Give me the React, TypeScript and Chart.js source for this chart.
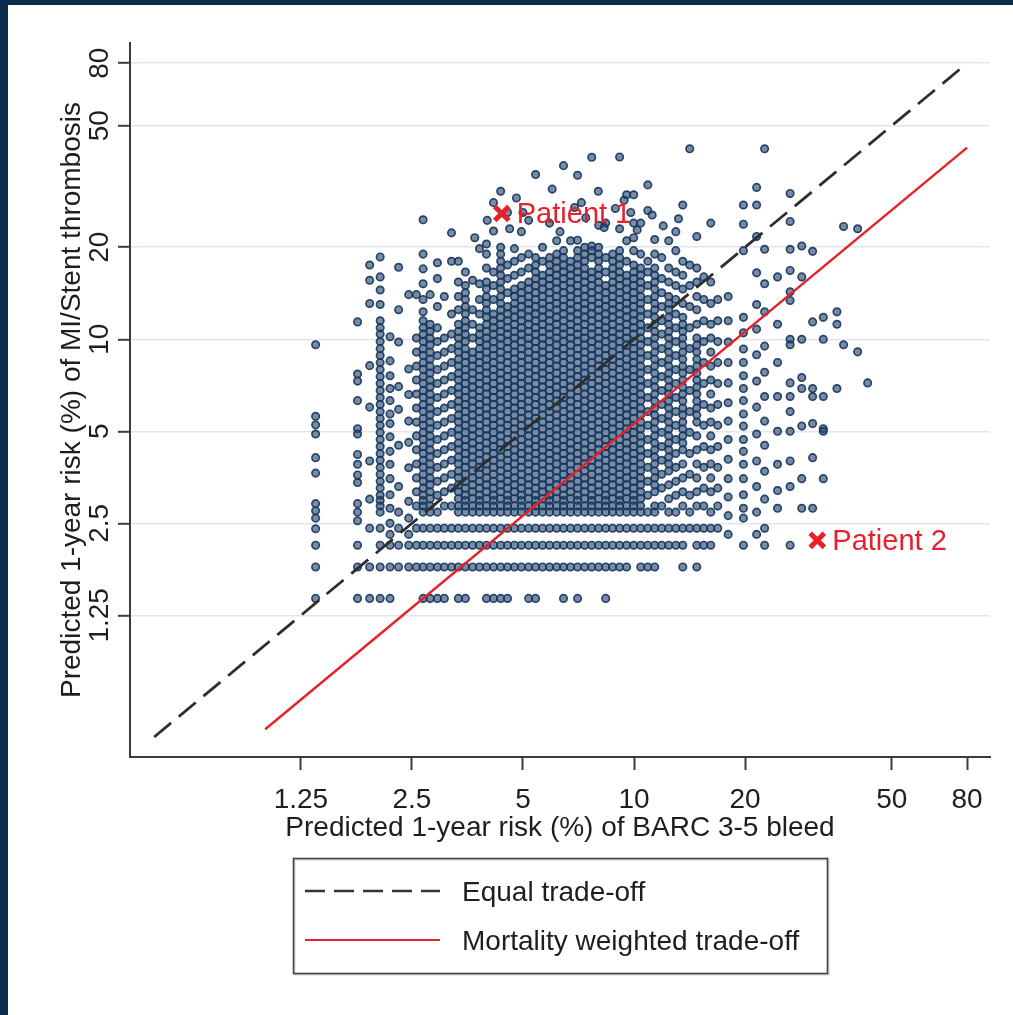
import React, { useEffect, useRef } from "react";
import { Chart, registerables } from "chart.js";

Chart.register(...registerables);

// ---------- axis ticks & titles ----------
const tickValues = [1.25, 2.5, 5, 10, 20, 50, 80];
const tickLabels = ["1.25", "2.5", "5", "10", "20", "50", "80"];
const xTitle = "Predicted 1-year risk (%) of BARC 3-5 bleed";
const yTitle = "Predicted 1-year risk (%) of MI/Stent thrombosis";

// ---------- reference lines ----------
const equalLineX = [0.5, 80];
const equalLineY = [0.5, 80];
const weightedLineX = [1, 80];
const weightedLineY = [0.53, 42.4];
const legendLabels = ["Equal trade-off", "Mortality weighted trade-off"];

// ---------- highlighted patients ----------
const patientNames = ["Patient 1", "Patient 2"];
const patientBleed = [4.38, 31.4];
const patientMist = [25.8, 2.2];

// ---------- patient cloud: bleed-risk columns and the MI/ST risks read in each ----------
const leftColsX = [1.37, 1.78, 1.92, 2.05, 2.18, 2.3, 2.45];
const leftColsY = [
  [9.6, 5.6, 5.25, 4.9, 4.1, 3.65, 2.9, 2.75, 2.6, 2.4, 2.12, 1.8, 1.42],
  [11.4, 7.7, 7.3, 6.3, 5.1, 4.9, 4.2, 3.9, 3.6, 3.4, 2.9, 2.72, 2.55, 2.12, 1.8, 1.42],
  [17.5, 15.6, 13.1, 8.2, 6.0, 4.0, 3.0, 2.41, 1.8, 1.42],
  [18.6, 16, 14.5, 13, 11.5, 10.9, 10.4, 9.83, 9.32, 8.85, 8.39, 7.96, 7.55, 7.17, 6.8, 6.45, 6.12, 5.8, 5.51, 5.23, 4.96, 4.7, 4.46, 4.23, 4.02, 3.81, 3.62, 3.43, 3.26, 3.09, 2.97, 2.85, 2.72, 2.41, 2.12, 1.8, 1.42],
  [10.2, 8.5, 7.6, 6.9, 6.3, 5.7, 5.3, 4.8, 4.3, 3.9, 3.5, 3.1, 2.8, 2.5, 2.3, 2.12, 1.8, 1.42],
  [17.2, 12.5, 9.8, 7.0, 5.9, 4.5, 3.3, 2.72, 2.41, 2.12, 1.8],
  [14, 8.0, 6.6, 5.4, 4.6, 3.8, 2.95, 2.6, 2.3, 2.12, 1.8],
];

const coreLowX = [2.57, 2.68, 2.8, 2.93, 3.06, 3.2, 3.34, 3.49, 3.65, 3.81, 3.98, 4.16, 4.35, 4.54, 4.74, 4.95, 5.18, 5.41, 5.65];
const coreLowY = [
  [14, 10.1, 9.08, 8.17, 7.36, 6.62, 5.96, 5.36, 4.83, 4.35, 3.91, 3.52, 3.17, 2.85, 2.41, 2.12, 1.8],
  [24.6, 19, 17, 15.2, 13.5, 12.3, 11.5, 10.9, 10.4, 9.83, 9.32, 8.85, 8.39, 7.96, 7.55, 7.17, 6.8, 6.45, 6.12, 5.8, 5.51, 5.23, 4.96, 4.7, 4.46, 4.23, 4.02, 3.81, 3.62, 3.43, 3.26, 3.09, 2.97, 2.85, 2.72, 2.41, 2.12, 1.8, 1.42],
  [14, 11.2, 10.6, 10.1, 9.57, 9.08, 8.61, 8.17, 7.75, 7.36, 6.98, 6.62, 6.28, 5.96, 5.65, 5.36, 5.09, 4.83, 4.58, 4.35, 4.12, 3.91, 3.71, 3.52, 3.34, 3.17, 3.01, 2.85, 2.72, 2.41, 2.12, 1.8, 1.42],
  [17.8, 15.8, 12.8, 10.9, 9.83, 8.85, 7.96, 7.17, 6.45, 5.8, 5.23, 4.7, 4.23, 3.81, 3.43, 3.09, 2.72, 2.41, 2.12, 1.8, 1.42],
  [13.8, 10.1, 9.08, 8.17, 7.36, 6.62, 5.96, 5.36, 4.83, 4.35, 3.91, 3.52, 3.17, 2.85, 2.41, 2.12, 1.8, 1.42],
  [22.3, 18, 12.1, 10.4, 9.32, 8.39, 7.55, 6.8, 6.12, 5.51, 4.96, 4.46, 4.02, 3.62, 3.26, 2.85, 2.41, 2.12, 1.8],
  [18, 15.4, 13.8, 12.5, 11.2, 10.6, 10.1, 9.57, 9.08, 8.61, 8.17, 7.75, 7.36, 6.98, 6.62, 6.28, 5.96, 5.65, 5.36, 5.09, 4.83, 4.58, 4.35, 4.12, 3.91, 3.71, 3.52, 3.34, 3.17, 3.01, 2.85, 2.72, 2.41, 2.12, 1.8, 1.42],
  [16.6, 15, 14.2, 13.5, 12.8, 12.1, 11.5, 10.9, 10.4, 9.83, 9.32, 8.85, 8.39, 7.96, 7.55, 7.17, 6.8, 6.45, 6.12, 5.8, 5.51, 5.23, 4.96, 4.7, 4.46, 4.23, 4.02, 3.81, 3.62, 3.43, 3.26, 3.09, 2.97, 2.85, 2.72, 2.41, 2.12, 1.8, 1.42],
  [15.6, 12.5, 11.2, 10.1, 9.08, 8.61, 8.17, 7.75, 7.36, 6.98, 6.62, 6.28, 5.96, 5.65, 5.36, 5.09, 4.83, 4.58, 4.35, 4.12, 3.91, 3.71, 3.52, 3.34, 3.17, 3.01, 2.85, 2.72, 2.41, 2.12, 1.8],
  [19.8, 15.2, 13.5, 12.1, 10.9, 10.4, 9.83, 9.32, 8.85, 8.39, 7.96, 7.55, 7.17, 6.8, 6.45, 6.12, 5.8, 5.51, 5.23, 4.96, 4.7, 4.46, 4.23, 4.02, 3.81, 3.62, 3.43, 3.26, 3.09, 2.97, 2.85, 2.72, 2.41, 2.12, 1.8],
  [20.5, 19, 17.1, 15.4, 14.6, 13.8, 13.1, 12.5, 11.8, 11.2, 10.6, 10.1, 9.57, 9.08, 8.61, 8.17, 7.75, 7.36, 6.98, 6.62, 6.28, 5.96, 5.65, 5.36, 5.09, 4.83, 4.58, 4.35, 4.12, 3.91, 3.71, 3.52, 3.34, 3.17, 3.01, 2.85, 2.72, 2.41, 2.12, 1.8, 1.42],
  [28, 22.6, 16.6, 15, 13.5, 12.1, 11.5, 10.9, 10.4, 9.83, 9.32, 8.85, 8.39, 7.96, 7.55, 7.17, 6.8, 6.45, 6.12, 5.8, 5.51, 5.23, 4.96, 4.7, 4.46, 4.23, 4.02, 3.81, 3.62, 3.43, 3.26, 3.09, 2.97, 2.85, 2.72, 2.41, 2.12, 1.8, 1.42],
  [30.5, 20, 19, 18, 17.1, 16.2, 15.4, 14.6, 13.8, 13.1, 12.5, 11.8, 11.2, 10.6, 10.1, 9.57, 9.08, 8.61, 8.17, 7.75, 7.36, 6.98, 6.62, 6.28, 5.96, 5.65, 5.36, 5.09, 4.83, 4.58, 4.35, 4.12, 3.91, 3.71, 3.52, 3.34, 3.17, 3.01, 2.85, 2.72, 2.41, 2.12, 1.8, 1.42],
  [26, 17.5, 15.8, 14.2, 12.8, 12.1, 11.5, 10.9, 10.4, 9.83, 9.32, 8.85, 8.39, 7.96, 7.55, 7.17, 6.8, 6.45, 6.12, 5.8, 5.51, 5.23, 4.96, 4.7, 4.46, 4.23, 4.02, 3.81, 3.62, 3.43, 3.26, 3.09, 2.97, 2.85, 2.72, 2.41, 2.12, 1.8, 1.42],
  [19.8, 18, 16.2, 14.6, 13.8, 13.1, 12.5, 11.8, 11.2, 10.6, 10.1, 9.57, 9.08, 8.61, 8.17, 7.75, 7.36, 6.98, 6.62, 6.28, 5.96, 5.65, 5.36, 5.09, 4.83, 4.58, 4.35, 4.12, 3.91, 3.71, 3.52, 3.34, 3.17, 3.01, 2.85, 2.72, 2.41, 2.12, 1.8],
  [22.5, 18.5, 16.6, 15, 14.2, 13.5, 12.8, 12.1, 11.5, 10.9, 10.4, 9.83, 9.32, 8.85, 8.39, 7.96, 7.55, 7.17, 6.8, 6.45, 6.12, 5.8, 5.51, 5.23, 4.96, 4.7, 4.46, 4.23, 4.02, 3.81, 3.62, 3.43, 3.26, 3.09, 2.97, 2.85, 2.72, 2.41, 2.12, 1.8],
  [24.5, 19, 17.1, 15.4, 14.6, 13.8, 13.1, 12.5, 11.8, 11.2, 10.6, 10.1, 9.57, 9.08, 8.61, 8.17, 7.75, 7.36, 6.98, 6.62, 6.28, 5.96, 5.65, 5.36, 5.09, 4.83, 4.58, 4.35, 4.12, 3.91, 3.71, 3.52, 3.34, 3.17, 3.01, 2.85, 2.72, 2.41, 2.12, 1.8, 1.42],
  [34.6, 18.5, 17.5, 16.6, 15.8, 15, 14.2, 13.5, 12.8, 12.1, 11.5, 10.9, 10.4, 9.83, 9.32, 8.85, 8.39, 7.96, 7.55, 7.17, 6.8, 6.45, 6.12, 5.8, 5.51, 5.23, 4.96, 4.7, 4.46, 4.23, 4.02, 3.81, 3.62, 3.43, 3.26, 3.09, 2.97, 2.85, 2.72, 2.41, 2.12, 1.8, 1.42],
  [20, 18, 16.2, 15.4, 14.6, 13.8, 13.1, 12.5, 11.8, 11.2, 10.6, 10.1, 9.57, 9.08, 8.61, 8.17, 7.75, 7.36, 6.98, 6.62, 6.28, 5.96, 5.65, 5.36, 5.09, 4.83, 4.58, 4.35, 4.12, 3.91, 3.71, 3.52, 3.34, 3.17, 3.01, 2.85, 2.72, 2.41, 2.12, 1.8],
];

const coreHighX = [5.9, 6.17, 6.44, 6.73, 7.03, 7.35, 7.68, 8.02, 8.38, 8.75, 9.14, 9.55, 9.98, 10.43];
const coreHighY = [
  [18.5, 17.5, 16.6, 15.8, 15, 14.2, 13.5, 12.8, 12.1, 11.5, 10.9, 10.4, 9.83, 9.32, 8.85, 8.39, 7.96, 7.55, 7.17, 6.8, 6.45, 6.12, 5.8, 5.51, 5.23, 4.96, 4.7, 4.46, 4.23, 4.02, 3.81, 3.62, 3.43, 3.26, 3.09, 2.97, 2.85, 2.72, 2.41, 2.12, 1.8],
  [21, 19, 18, 17.1, 16.2, 15.4, 14.6, 13.8, 13.1, 12.5, 11.8, 11.2, 10.6, 10.1, 9.57, 9.08, 8.61, 8.17, 7.75, 7.36, 6.98, 6.62, 6.28, 5.96, 5.65, 5.36, 5.09, 4.83, 4.58, 4.35, 4.12, 3.91, 3.71, 3.52, 3.34, 3.17, 3.01, 2.85, 2.72, 2.41, 2.12, 1.8],
  [37, 19.5, 18.5, 17.5, 16.6, 15.8, 15, 14.2, 13.5, 12.8, 12.1, 11.5, 10.9, 10.4, 9.83, 9.32, 8.85, 8.39, 7.96, 7.55, 7.17, 6.8, 6.45, 6.12, 5.8, 5.51, 5.23, 4.96, 4.7, 4.46, 4.23, 4.02, 3.81, 3.62, 3.43, 3.26, 3.09, 2.97, 2.85, 2.72, 2.41, 2.12, 1.8, 1.42],
  [21, 18, 17.1, 16.2, 15.4, 14.6, 13.8, 13.1, 12.5, 11.8, 11.2, 10.6, 10.1, 9.57, 9.08, 8.61, 8.17, 7.75, 7.36, 6.98, 6.62, 6.28, 5.96, 5.65, 5.36, 5.09, 4.83, 4.58, 4.35, 4.12, 3.91, 3.71, 3.52, 3.34, 3.17, 3.01, 2.85, 2.72, 2.41, 2.12, 1.8],
  [34.4, 21.1, 19.5, 18.5, 17.5, 16.6, 15.8, 15, 14.2, 13.5, 12.8, 12.1, 11.5, 10.9, 10.4, 9.83, 9.32, 8.85, 8.39, 7.96, 7.55, 7.17, 6.8, 6.45, 6.12, 5.8, 5.51, 5.23, 4.96, 4.7, 4.46, 4.23, 4.02, 3.81, 3.62, 3.43, 3.26, 3.09, 2.97, 2.85, 2.72, 2.41, 2.12, 1.8, 1.42],
  [20, 19, 18, 17.1, 16.2, 15.4, 14.6, 13.8, 13.1, 12.5, 11.8, 11.2, 10.6, 10.1, 9.57, 9.08, 8.61, 8.17, 7.75, 7.36, 6.98, 6.62, 6.28, 5.96, 5.65, 5.36, 5.09, 4.83, 4.58, 4.35, 4.12, 3.91, 3.71, 3.52, 3.34, 3.17, 3.01, 2.85, 2.72, 2.41, 2.12, 1.8],
  [39.4, 20.2, 19.5, 18.5, 16.6, 15.8, 15, 14.2, 13.5, 12.8, 12.1, 11.5, 10.9, 10.4, 9.83, 9.32, 8.85, 8.39, 7.96, 7.55, 7.17, 6.8, 6.45, 6.12, 5.8, 5.51, 5.23, 4.96, 4.7, 4.46, 4.23, 4.02, 3.81, 3.62, 3.43, 3.26, 3.09, 2.97, 2.85, 2.72, 2.41, 2.12, 1.8],
  [23.6, 20, 19, 18, 17.1, 16.2, 15.4, 14.6, 13.8, 13.1, 12.5, 11.8, 11.2, 10.6, 10.1, 9.57, 9.08, 8.61, 8.17, 7.75, 7.36, 6.98, 6.62, 6.28, 5.96, 5.65, 5.36, 5.09, 4.83, 4.58, 4.35, 4.12, 3.91, 3.71, 3.52, 3.34, 3.17, 3.01, 2.85, 2.72, 2.41, 2.12, 1.8],
  [24, 18.5, 16.6, 15, 14.2, 13.5, 12.8, 12.1, 11.5, 10.9, 10.4, 9.83, 9.32, 8.85, 8.39, 7.96, 7.55, 7.17, 6.8, 6.45, 6.12, 5.8, 5.51, 5.23, 4.96, 4.7, 4.46, 4.23, 4.02, 3.81, 3.62, 3.43, 3.26, 3.09, 2.97, 2.85, 2.72, 2.41, 2.12, 1.8, 1.42],
  [19, 18, 17.1, 16.2, 15.4, 14.6, 13.8, 13.1, 12.5, 11.8, 11.2, 10.6, 10.1, 9.57, 9.08, 8.61, 8.17, 7.75, 7.36, 6.98, 6.62, 6.28, 5.96, 5.65, 5.36, 5.09, 4.83, 4.58, 4.35, 4.12, 3.91, 3.71, 3.52, 3.34, 3.17, 3.01, 2.85, 2.72, 2.41, 2.12, 1.8],
  [39.5, 23, 19.5, 18.5, 17.5, 16.6, 15.8, 15, 14.2, 13.5, 12.8, 12.1, 11.5, 10.9, 10.4, 9.83, 9.32, 8.85, 8.39, 7.96, 7.55, 7.17, 6.8, 6.45, 6.12, 5.8, 5.51, 5.23, 4.96, 4.7, 4.46, 4.23, 4.02, 3.81, 3.62, 3.43, 3.26, 3.09, 2.97, 2.85, 2.72, 2.41, 2.12, 1.8],
  [29.7, 21, 18, 16.2, 15.4, 14.6, 13.8, 13.1, 12.5, 11.8, 11.2, 10.6, 10.1, 9.57, 9.08, 8.61, 8.17, 7.75, 7.36, 6.98, 6.62, 6.28, 5.96, 5.65, 5.36, 5.09, 4.83, 4.58, 4.35, 4.12, 3.91, 3.71, 3.52, 3.34, 3.17, 3.01, 2.85, 2.72, 2.41, 2.12, 1.8],
  [29.7, 24, 21.5, 19.5, 17.5, 16.6, 15.8, 15, 14.2, 13.5, 12.8, 12.1, 11.5, 10.9, 10.4, 9.83, 9.32, 8.85, 8.39, 7.96, 7.55, 7.17, 6.8, 6.45, 6.12, 5.8, 5.51, 5.23, 4.96, 4.7, 4.46, 4.23, 4.02, 3.81, 3.62, 3.43, 3.26, 3.09, 2.97, 2.85, 2.72, 2.41, 2.12],
  [24, 19, 17.1, 16.2, 15.4, 14.6, 13.8, 13.1, 12.5, 11.8, 11.2, 10.6, 10.1, 9.57, 9.08, 8.61, 8.17, 7.75, 7.36, 6.98, 6.62, 6.28, 5.96, 5.65, 5.36, 5.09, 4.83, 4.58, 4.35, 4.12, 3.91, 3.71, 3.52, 3.34, 3.17, 3.01, 2.85, 2.72, 2.41, 2.12, 1.8],
];

const upperX = [10.9, 11.38, 11.89, 12.42, 12.98, 13.56, 14.16, 14.8, 15.46, 16.15, 16.87];
const upperY = [
  [32, 26.4, 18, 16.6, 15, 13.5, 12.1, 10.9, 9.83, 8.85, 7.96, 7.17, 6.45, 5.8, 5.23, 4.7, 4.23, 3.81, 3.43, 3.09, 2.72, 2.41, 2.12, 1.8],
  [21.2, 19, 17.1, 16.2, 15.4, 14.6, 13.8, 13.1, 12.5, 11.8, 11.2, 10.6, 10.1, 9.57, 9.08, 8.61, 8.17, 7.75, 7.36, 6.98, 6.62, 6.28, 5.96, 5.65, 5.36, 5.09, 4.83, 4.58, 4.35, 4.12, 3.91, 3.71, 3.52, 3.34, 3.17, 2.85, 2.72, 2.41, 2.12, 1.8],
  [18.5, 15.8, 14.2, 12.8, 11.5, 10.4, 9.32, 8.39, 7.55, 6.8, 6.12, 5.51, 4.96, 4.46, 4.02, 3.62, 3.26, 2.85, 2.41, 2.12],
  [21, 17.1, 15.4, 13.8, 13.1, 12.5, 11.8, 11.2, 10.6, 10.1, 9.57, 9.08, 8.61, 8.17, 7.75, 7.36, 6.98, 6.62, 6.28, 5.96, 5.65, 5.36, 5.09, 4.83, 4.58, 4.35, 4.12, 3.91, 3.71, 3.34, 3.01, 2.72, 2.41, 2.12],
  [22.5, 19.5, 16.6, 15, 13.5, 12.1, 10.9, 9.83, 8.85, 7.96, 7.17, 6.45, 5.8, 5.23, 4.7, 4.23, 3.81, 3.43, 3.09, 2.72, 2.41, 2.12],
  [27.5, 18, 16.2, 14.6, 13.1, 11.8, 11.2, 10.6, 10.1, 9.57, 9.08, 8.61, 8.17, 7.75, 7.36, 6.98, 6.62, 6.28, 5.96, 5.65, 5.36, 5.09, 4.83, 4.58, 4.35, 3.91, 3.52, 3.17, 2.85, 2.41, 2.12, 1.8],
  [42, 17.5, 15, 12.8, 10.9, 9.32, 7.96, 6.8, 5.8, 4.96, 4.23, 3.62, 3.09, 2.72, 2.41],
  [21.7, 17.1, 15.4, 13.8, 12.5, 11.2, 10.1, 9.57, 9.08, 8.61, 8.17, 7.75, 7.36, 6.98, 6.62, 6.28, 5.96, 5.65, 5.36, 4.83, 4.35, 3.91, 3.52, 3.17, 2.85, 2.41, 2.12, 1.8],
  [16, 13.5, 11.5, 9.83, 8.39, 7.17, 6.12, 5.23, 4.46, 3.81, 3.26, 2.85, 2.41, 2.12],
  [24, 15.4, 13.1, 11.2, 10.1, 9.08, 8.17, 7.36, 6.62, 5.96, 5.36, 4.83, 4.35, 3.91, 3.52, 3.17, 2.72, 2.41, 2.12],
  [13.5, 11.5, 9.83, 8.39, 7.17, 6.12, 5.23, 4.46, 3.81, 3.26, 2.85, 2.41],
];

const rightColsX = [18, 19.8, 21.5, 22.6, 24.5, 26.5, 28.5, 30.5, 32.6, 35.5, 37, 40.4, 43];
const rightColsY = [
  [13.8, 11.5, 9.8, 8.4, 7.2, 6.2, 5.4, 4.7, 4.05, 3.5, 3.05, 2.65, 2.3],
  [27.5, 23.8, 19.5, 11.8, 10.5, 9.3, 8.4, 7.6, 6.9, 6.3, 5.7, 5.2, 4.7, 4.3, 3.9, 3.5, 3.1, 2.8, 2.6, 2.12],
  [31.4, 27.5, 21.7, 16.5, 13, 10.8, 8.9, 7.3, 6.0, 4.9, 4.0, 3.3, 2.72, 2.3],
  [42, 19.7, 15.2, 12.3, 9.5, 7.8, 6.5, 5.4, 4.5, 3.7, 3.0, 2.41, 2.12],
  [16, 11.2, 8.4, 6.5, 5.0, 3.9, 3.2, 2.8],
  [30, 24.3, 19.7, 16.8, 14.3, 13.4, 10, 9.6, 7.2, 6.5, 5.8, 5.0, 4.0, 3.3, 2.12],
  [20.2, 16, 10, 7.5, 6.9, 5.2, 3.5, 2.8],
  [19.4, 11.4, 6.9, 6.5, 5.3, 4.1, 2.8],
  [11.8, 10, 6.5, 5.1, 5.0, 3.5],
  [12.3, 11.2, 6.9],
  [23.4, 9.6],
  [23, 9.1],
  [7.2],
];

// sparse halo above the dense cloud
const haloX = [3.7, 4.0, 4.6, 4.8, 5.0, 5.9, 6.0, 6.3, 6.9, 7.2, 7.4, 8.0, 8.3, 8.9, 9.4, 9.8, 10.2, 11.2, 12.0, 13.2];
const haloY = [21.5, 24.5, 23, 29, 26, 24, 31, 22.5, 27, 28, 25, 30.5, 23.2, 26.8, 28.5, 26, 22.8, 25.5, 23.5, 24.8];

// ---------- styling ----------
const FONT = '"Liberation Sans", Arial, Helvetica, sans-serif';
const TEXT = "#1e1e1e";
const RED = "#e8202a";
const AXIS = "#3c3c3c";

function columnsToPoints(xs: number[], ys: number[][]) {
  const pts: { x: number; y: number }[] = [];
  xs.forEach((x, i) => ys[i].forEach((y) => pts.push({ x, y })));
  return pts;
}

function pairs(xs: number[], ys: number[]) {
  return xs.map((x, i) => ({ x, y: ys[i] }));
}

const overlayPlugin = {
  id: "overlayText",
  afterDraw(chart: any) {
    const { ctx, scales, chartArea } = chart;
    const xs = scales.x;
    const ys = scales.y;
    ctx.save();
    ctx.fillStyle = TEXT;
    ctx.font = `28px ${FONT}`;
    ctx.textAlign = "center";
    ctx.textBaseline = "alphabetic";

    tickValues.forEach((v, i) => {
      ctx.fillText(tickLabels[i], xs.getPixelForValue(v), chartArea.bottom + 51);
    });
    ctx.fillText(xTitle, (chartArea.left + chartArea.right) / 2, chartArea.bottom + 79);

    tickValues.forEach((v, i) => {
      ctx.save();
      ctx.translate(chartArea.left - 22, ys.getPixelForValue(v));
      ctx.rotate(-Math.PI / 2);
      ctx.fillText(tickLabels[i], 0, 0);
      ctx.restore();
    });
    ctx.save();
    ctx.translate(chartArea.left - 50, (chartArea.top + chartArea.bottom) / 2);
    ctx.rotate(-Math.PI / 2);
    ctx.fillText(yTitle, 0, 0);
    ctx.restore();

    ctx.fillStyle = RED;
    ctx.font = `29px ${FONT}`;
    ctx.textAlign = "left";
    ctx.textBaseline = "middle";
    patientNames.forEach((name, i) => {
      const px = xs.getPixelForValue(patientBleed[i]);
      const py = ys.getPixelForValue(patientMist[i]);
      ctx.fillText(name, px + 15, py + 2);
    });

    const bx = 285, by = 853, bw = 534, bh = 115;
    ctx.fillStyle = "#ffffff";
    ctx.fillRect(bx, by, bw, bh);
    ctx.strokeStyle = "rgba(0,0,0,0.18)";
    ctx.lineWidth = 2;
    ctx.strokeRect(bx + 1.5, by + 1.5, bw, bh);
    ctx.strokeStyle = "#444";
    ctx.lineWidth = 1.6;
    ctx.strokeRect(bx + 0.5, by + 0.5, bw, bh);

    const rows = [886, 935];
    ctx.beginPath();
    ctx.setLineDash([20, 9]);
    ctx.strokeStyle = "#333";
    ctx.lineWidth = 2.6;
    ctx.moveTo(297, rows[0]);
    ctx.lineTo(432, rows[0]);
    ctx.stroke();
    ctx.setLineDash([]);
    ctx.beginPath();
    ctx.strokeStyle = RED;
    ctx.lineWidth = 2.2;
    ctx.moveTo(297, rows[1]);
    ctx.lineTo(432, rows[1]);
    ctx.stroke();

    ctx.fillStyle = TEXT;
    ctx.font = `28px ${FONT}`;
    ctx.textAlign = "left";
    ctx.textBaseline = "alphabetic";
    legendLabels.forEach((t, i) => ctx.fillText(t, 454, rows[i] + 10));

    ctx.restore();
  },
};

export default function App() {
  const canvasRef = useRef<HTMLCanvasElement | null>(null);

  useEffect(() => {
    if (!canvasRef.current) return;
    const cloud = [
      ...columnsToPoints(leftColsX, leftColsY),
      ...columnsToPoints(coreLowX, coreLowY),
      ...columnsToPoints(coreHighX, coreHighY),
      ...columnsToPoints(upperX, upperY),
      ...columnsToPoints(rightColsX, rightColsY),
      ...pairs(haloX, haloY),
    ];
    const chart = new Chart(canvasRef.current, {
      type: "scatter",
      data: {
        datasets: [
          {
            label: "Patients",
            data: pairs(patientBleed, patientMist),
            pointStyle: "crossRot",
            pointRadius: 10,
            pointBorderWidth: 5,
            pointBorderColor: RED,
            pointBackgroundColor: RED,
            order: 0,
          } as any,
          {
            label: legendLabels[0],
            type: "line",
            data: pairs(equalLineX, equalLineY),
            borderColor: "#2e2e2e",
            borderWidth: 2.8,
            borderDash: [22, 10],
            pointRadius: 0,
            fill: false,
            order: 1,
          } as any,
          {
            label: legendLabels[1],
            type: "line",
            data: pairs(weightedLineX, weightedLineY),
            borderColor: RED,
            borderWidth: 2.4,
            pointRadius: 0,
            fill: false,
            order: 2,
          } as any,
          {
            label: "Patients cloud",
            data: cloud,
            pointStyle: "circle",
            pointRadius: 3.7,
            pointBorderWidth: 1.7,
            pointBorderColor: "rgba(22,54,92,0.9)",
            pointBackgroundColor: "rgba(38,70,112,0.62)",
            order: 3,
          } as any,
        ],
      },
      options: {
        responsive: false,
        animation: false,
        devicePixelRatio: 1,
        layout: { padding: { left: 0, right: 23, top: 38, bottom: 198 } },
        plugins: {
          legend: { display: false },
          tooltip: { enabled: false },
        },
        scales: {
          x: {
            type: "logarithmic",
            min: 0.43,
            max: 92.3,
            afterBuildTicks: (scale: any) => {
              scale.ticks = tickValues.map((v) => ({ value: v }));
            },
            afterFit: (scale: any) => {
              scale.height = 60;
            },
            ticks: { display: false },
            grid: {
              display: true,
              drawOnChartArea: false,
              drawTicks: true,
              tickLength: 13,
              tickColor: AXIS,
              tickWidth: 2,
            },
            border: { display: true, color: AXIS, width: 2 },
          },
          y: {
            type: "logarithmic",
            min: 0.43,
            max: 93.2,
            afterBuildTicks: (scale: any) => {
              scale.ticks = tickValues.map((v) => ({ value: v }));
            },
            afterFit: (scale: any) => {
              scale.width = 122;
            },
            ticks: { display: false },
            grid: {
              display: true,
              drawOnChartArea: true,
              color: "#e2e6ea",
              lineWidth: 1.6,
              drawTicks: true,
              tickLength: 12,
              tickColor: AXIS,
              tickWidth: 2,
            },
            border: { display: true, color: AXIS, width: 2 },
          },
        },
      } as any,
      plugins: [overlayPlugin],
    });
    return () => chart.destroy();
  }, []);

  return (
    <div style={{ position: "fixed", left: 0, top: 0, width: 1013, height: 1015, background: "#0b2d4e" }}>
      <div style={{ position: "absolute", left: 8, top: 5, width: 1005, height: 1010, background: "#ffffff" }}>
        <canvas ref={canvasRef} width={1005} height={1010} style={{ display: "block" }} />
      </div>
    </div>
  );
}
